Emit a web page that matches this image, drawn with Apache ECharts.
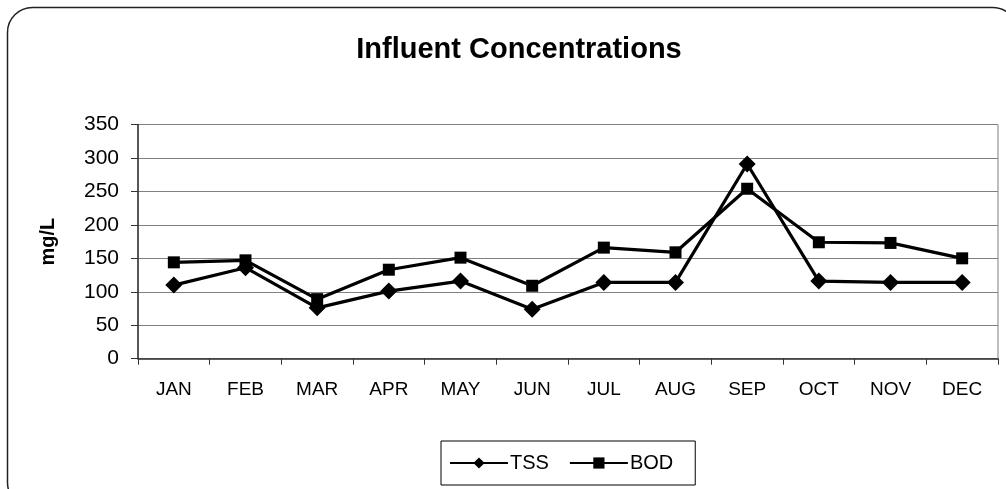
<!DOCTYPE html>
<html>
<head>
<meta charset="utf-8">
<script src="https://cdn.jsdelivr.net/npm/echarts@6/dist/echarts.min.js"></script>
<style>
html,body{margin:0;padding:0;background:#fff;}
#chart{width:1006px;height:489px;}
</style>
</head>
<body>
<div id="chart"></div>
<script>
const categories = ['JAN','FEB','MAR','APR','MAY','JUN','JUL','AUG','SEP','OCT','NOV','DEC'];
const tssValues = [110, 136, 76, 101, 116, 74, 114, 114, 291, 116, 114, 114];
const bodValues = [144, 147, 89, 133, 151, 109, 166, 159, 254, 174, 173, 150];
const yTicks = [0, 50, 100, 150, 200, 250, 300, 350];

const FONT = '"Liberation Sans", Arial, sans-serif';
const chart = echarts.init(document.getElementById('chart'), null, {renderer: 'canvas'});
chart.setOption({
  animation: false,
  backgroundColor: '#fff',
  title: {
    text: 'Influent Concentrations',
    left: 514, top: 30, textAlign: 'center',
    textStyle: {fontFamily: FONT, fontWeight: 'bold', fontSize: 29, color: '#000'}
  },
  graphic: [{
    type: 'rect', silent: true, z: -1,
    shape: {x: 7.5, y: 7.5, width: 1010, height: 500, r: 25},
    style: {fill: 'none', stroke: '#222', lineWidth: 1.5}
  }],
  legend: {
    left: 441, top: 441,
    padding: [12, 22, 12, 8],
    itemGap: 20,
    itemWidth: 58, itemHeight: 14,
    borderColor: '#000', borderWidth: 1,
    textStyle: {fontFamily: FONT, fontSize: 20, color: '#000', padding: [0,0,0,-3]},
    data: ['TSS', 'BOD']
  },
  grid: {
    left: 138, right: 8, top: 124.5, bottom: 130.3,
    show: true, borderColor: '#808080', borderWidth: 1,
    containLabel: false
  },
  xAxis: {
    type: 'category', data: categories, boundaryGap: true,
    axisLine: {lineStyle: {color: '#333', width: 1.5}},
    axisTick: {show: true, length: 6, lineStyle: {color: '#333'}},
    axisLabel: {fontFamily: FONT, fontSize: 19, color: '#000', margin: 22}
  },
  yAxis: {
    type: 'value', min: yTicks[0], max: yTicks[yTicks.length-1], interval: 50,
    name: 'mg/L', nameLocation: 'middle', nameGap: 80, nameRotate: 90,
    nameTextStyle: {fontFamily: FONT, fontWeight: 'bold', fontSize: 20, color: '#000'},
    axisLine: {show: true, lineStyle: {color: '#333', width: 1.5}},
    axisTick: {show: true, length: 7, lineStyle: {color: '#333'}},
    axisLabel: {fontFamily: FONT, fontSize: 21, color: '#000', margin: 19},
    splitLine: {show: true, lineStyle: {color: '#808080', width: 1}}
  },
  series: [
    {
      name: 'TSS', type: 'line', data: tssValues,
      symbol: 'diamond', symbolSize: 17,
      lineStyle: {color: '#000', width: 3.2},
      itemStyle: {color: '#000'}
    },
    {
      name: 'BOD', type: 'line', data: bodValues,
      symbol: 'rect', symbolSize: 12,
      lineStyle: {color: '#000', width: 3.2},
      itemStyle: {color: '#000'}
    }
  ]
});
</script>
</body>
</html>
